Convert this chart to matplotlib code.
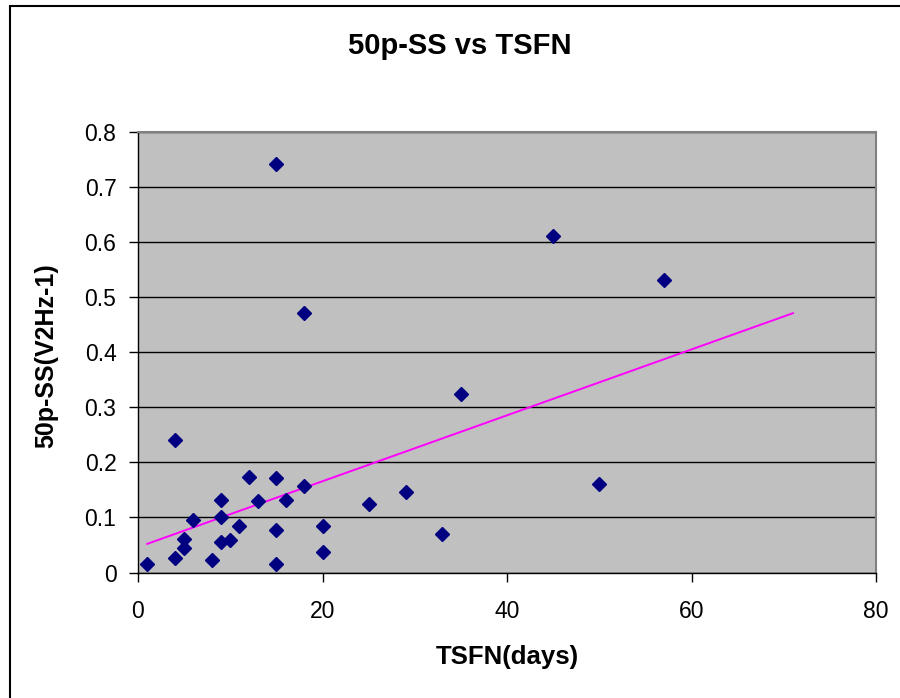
import matplotlib
matplotlib.use("Agg")
import matplotlib.pyplot as plt
from matplotlib.patches import Rectangle
from matplotlib.ticker import FuncFormatter

plt.rcParams['font.family'] = ['Liberation Sans', 'DejaVu Sans']

# days since first notice vs 50p-SS
tsfn_days = [1, 4, 4, 5, 5, 6, 8, 9, 9, 9, 10, 11, 12, 13, 15, 15, 15, 15,
             16, 18, 18, 20, 20, 25, 29, 33, 35, 45, 50, 57]
ss_50p = [0.015, 0.241, 0.027, 0.060, 0.044, 0.095, 0.022, 0.132, 0.101,
          0.055, 0.059, 0.084, 0.174, 0.129, 0.741, 0.171, 0.077, 0.015,
          0.132, 0.471, 0.157, 0.084, 0.037, 0.124, 0.146, 0.070, 0.324,
          0.612, 0.161, 0.532]

# trendline end points as drawn in the original
trend_days = [1, 71]
trend_vals = [0.052, 0.471]

x_ticks = [0, 20, 40, 60, 80]
y_ticks = [0, 0.1, 0.2, 0.3, 0.4, 0.5, 0.6, 0.7, 0.8]

fig = plt.figure(figsize=(9, 6.98), dpi=100)
ax = fig.add_axes([138 / 900, 1 - 572.5 / 698, 738 / 900, 440.5 / 698])

ax.set_facecolor('#C0C0C0')
ax.set_xlim(0, 80)
ax.set_ylim(0, 0.8)
ax.set_xticks(x_ticks)
ax.set_yticks(y_ticks)
ax.yaxis.set_major_formatter(FuncFormatter(lambda v, p: '%g' % v))

ax.grid(axis='y', color='black', linewidth=1.0)
ax.set_axisbelow(True)

ax.plot(trend_days, trend_vals, color='#FF00FF', linewidth=1.4, zorder=2)
ax.plot(tsfn_days, ss_50p, linestyle='none', marker='D', markersize=7.5,
        color='#000080', zorder=3)

for side in ['top', 'right']:
    ax.spines[side].set_color('#808080')
    ax.spines[side].set_linewidth(1.5)
for side in ['left', 'bottom']:
    ax.spines[side].set_color('black')
    ax.spines[side].set_linewidth(1.0)

ax.tick_params(axis='both', direction='out', length=6.5, width=1.0,
               labelsize=16.5, color='black')
ax.tick_params(axis='x', pad=13)
ax.tick_params(axis='y', pad=9)

fig.text(460 / 900, 1 - 46 / 698, '50p-SS vs TSFN', ha='center', va='center',
         fontsize=21, fontweight='bold')
fig.text(507 / 900, 1 - 657 / 698, 'TSFN(days)', ha='center', va='center',
         fontsize=18.5, fontweight='bold')
fig.text(46 / 900, 1 - 356 / 698, '50p-SS(V2Hz-1)', ha='center', va='center',
         rotation=90, fontsize=18, fontweight='bold')

# outer chart border (runs past the right and bottom edges)
fig.patches.append(Rectangle((10 / 900, -0.05), 1.0, 1.05 - 6 / 698,
                             transform=fig.transFigure, fill=False,
                             edgecolor='black', linewidth=1.5))

fig.savefig('out.png', dpi=100)
